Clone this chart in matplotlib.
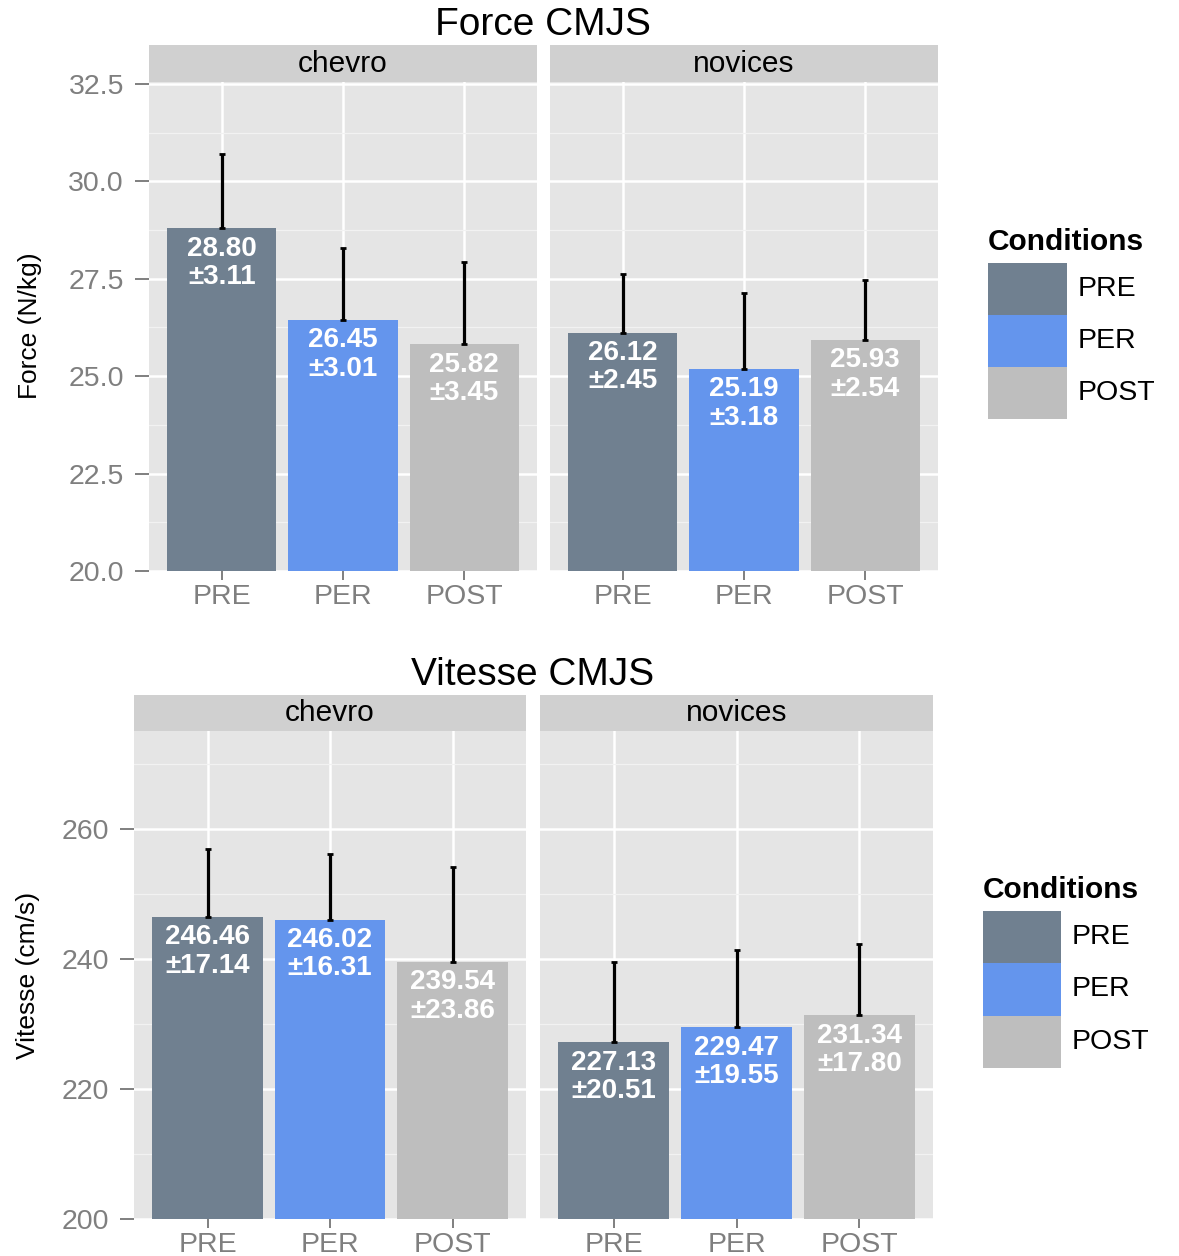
import matplotlib
matplotlib.use("Agg")
import matplotlib.pyplot as plt
from matplotlib.patches import Rectangle

plt.rcParams['font.family'] = ['Liberation Sans', 'DejaVu Sans']

# data
conditions = ['PRE', 'PER', 'POST']
groups = ['chevro', 'novices']
colors = ['#708090', '#6495ED', '#BEBEBE']

force_mean = [[28.80, 26.45, 25.82], [26.12, 25.19, 25.93]]
force_sd = [[3.11, 3.01, 3.45], [2.45, 3.18, 2.54]]
force_err = [[1.89, 1.84, 2.11], [1.50, 1.95, 1.54]]
force_ticks = ['20.0', '22.5', '25.0', '27.5', '30.0', '32.5']

vitesse_mean = [[246.46, 246.02, 239.54], [227.13, 229.47, 231.34]]
vitesse_sd = [[17.14, 16.31, 23.86], [20.51, 19.55, 17.80]]
vitesse_err = [[10.45, 10.0, 14.6], [12.4, 11.9, 10.95]]
vitesse_ticks = ['200', '220', '240', '260']

W, H = 1179, 1256
fig = plt.figure(figsize=(W / 100, H / 100), dpi=100)


def px_axes(x0, y0, x1, y1):
    return fig.add_axes([x0 / W, 1 - y1 / H, (x1 - x0) / W, (y1 - y0) / H])


def draw_legend(x0, title_y, key_top, key_w, key_h):
    fig.text(x0 / W, 1 - title_y / H, 'Conditions', ha='left', va='center',
             fontsize=21.5, fontweight='bold')
    for i, (c, lab) in enumerate(zip(colors, conditions)):
        top = key_top + i * key_h
        fig.add_artist(Rectangle((x0 / W, 1 - (top + key_h) / H), key_w / W, key_h / H,
                                 transform=fig.transFigure, facecolor=c,
                                 edgecolor='none'))
        fig.text((x0 + key_w + 11) / W, 1 - (top + key_h / 2) / H, lab,
                 ha='left', va='center', fontsize=20.5)


def draw_block(title, title_xy, ylabel, ylabel_xy, means, sds, errs,
               ylim, yticks, yticklabels, minor, panels, strip_top, panel_top,
               panel_bot):
    fig.text(title_xy[0] / W, 1 - title_xy[1] / H, title, ha='center', va='center',
             fontsize=28, color='black')
    fig.text(ylabel_xy[0] / W, 1 - ylabel_xy[1] / H, ylabel, rotation=90,
             ha='center', va='center', fontsize=19)
    x = [1, 2, 3]
    for gi, (x0, x1) in enumerate(panels):
        # strip
        sax = px_axes(x0, strip_top, x1, panel_top)
        sax.set_facecolor('#D0D0D0')
        sax.set_xticks([])
        sax.set_yticks([])
        for s in sax.spines.values():
            s.set_visible(False)
        sax.text(0.5, 0.5, groups[gi], ha='center', va='center', fontsize=21.5,
                 transform=sax.transAxes)

        ax = px_axes(x0, panel_top, x1, panel_bot)
        ax.set_facecolor('#E5E5E5')
        for s in ax.spines.values():
            s.set_visible(False)
        ax.set_axisbelow(True)
        ax.bar(x, means[gi], width=0.9, color=colors, zorder=2)
        ax.errorbar(x, means[gi], yerr=[[0, 0, 0], errs[gi]], fmt='none',
                    ecolor='black', elinewidth=2.3, capsize=2, capthick=2, zorder=3)
        for xi, m, s in zip(x, means[gi], sds[gi]):
            ax.annotate(f"{m:.2f}\n±{s:.2f}", (xi, m), xytext=(0, -25),
                        textcoords='offset points', ha='center', va='center',
                        color='white', fontsize=20, fontweight='bold',
                        linespacing=1.12, zorder=4)
        ax.set_xlim(0.4, 3.6)
        ax.set_ylim(*ylim)
        ax.set_xticks(x)
        ax.set_xticklabels(conditions)
        ax.set_yticks(yticks)
        ax.set_yticks(minor, minor=True)
        ax.grid(True, which='major', color='white', linewidth=1.8)
        ax.grid(True, which='minor', axis='y', color='#F2F2F2', linewidth=0.9)
        ax.tick_params(axis='x', colors='#7F7F7F', labelsize=20.5, length=6.5,
                       width=1.4, pad=3)
        ax.tick_params(axis='y', which='minor', length=0)
        if gi == 0:
            ax.set_yticklabels(yticklabels)
            ax.tick_params(axis='y', colors='#7F7F7F', labelsize=20.5, length=10,
                           width=1.4, pad=8)
        else:
            ax.tick_params(axis='y', left=False, labelleft=False)


draw_block('Force CMJS', (543, 25), 'Force (N/kg)', (30, 326),
           force_mean, force_sd, force_err,
           (20, 32.55), [20.0, 22.5, 25.0, 27.5, 30.0, 32.5], force_ticks,
           [21.25, 23.75, 26.25, 28.75, 31.25],
           [(149, 537), (550, 938)], 45, 82, 571)
draw_legend(988, 242, 263, 79, 52)

draw_block('Vitesse CMJS', (533, 675), 'Vitesse (cm/s)', (28, 975),
           vitesse_mean, vitesse_sd, vitesse_err,
           (200, 275), [200, 220, 240, 260], vitesse_ticks, [210, 230, 250, 270],
           [(134, 526), (540, 933)], 695, 731, 1219)
draw_legend(983, 890, 911, 78, 52.3)

fig.savefig('out.png', dpi=100)
